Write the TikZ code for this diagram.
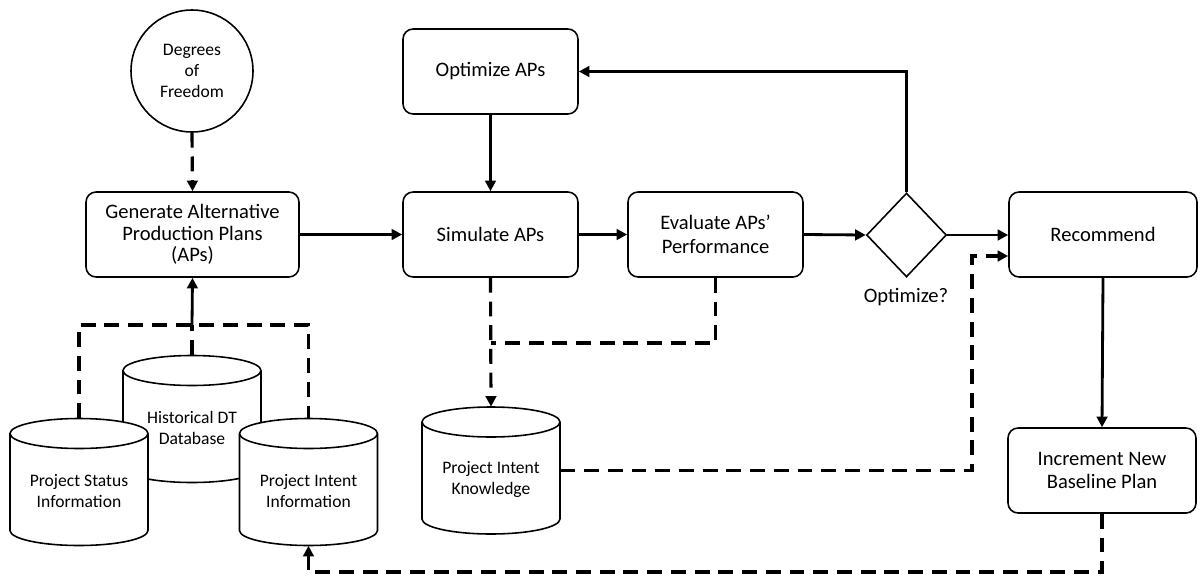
\documentclass[tikz,border=0pt]{standalone}
\usepackage{fontspec}
\setmainfont{Carlito}
\usetikzlibrary{arrows.meta,shapes.geometric}
\newcommand\mainfnt{\fontsize{11.7}{13.5}\selectfont}
\newcommand\smallfnt{\fontsize{10}{12}\selectfont}
\newcommand\cylat[4]{%
  \draw[cylline] (#2,#3) ++(-69,48.5) -- ++(0,-97) arc[start angle=180,end angle=360,x radius=1.38cm,y radius=0.3cm] -- ++(0,97) arc[start angle=0,end angle=180,x radius=1.38cm,y radius=0.3cm] -- cycle;
  \draw[cylline] (#2,#3) ++(-69,48.5) arc[start angle=180,end angle=360,x radius=1.38cm,y radius=0.3cm];
  \node[cylnode] (#1) at (#2,#3) {\rule{0pt}{17pt}#4};}
\begin{document}
\begin{tikzpicture}[x=0.02cm,y=0.02cm,
  box/.style={draw,line width=0.9pt,rounded corners=0.2cm,minimum height=1.7cm,align=center,inner sep=2pt,font=\mainfnt},
  cylline/.style={draw,fill=white,line width=0.9pt},
  cylnode/.style={minimum width=2.76cm,minimum height=2.54cm,inner sep=0pt,align=center,font=\smallfnt},
  arr/.style={line width=1.6pt,-{Triangle[length=6pt,width=6pt]}},
  darr/.style={line width=1.8pt,dash pattern=on 8.5pt off 5pt,-{Triangle[length=6pt,width=6pt]}},
  dline/.style={line width=1.8pt,dash pattern=on 8.5pt off 5pt}]
\useasboundingbox (0,0) rectangle (1200,-575);

% nodes
\node[draw,circle,line width=0.9pt,minimum size=2.44cm,inner sep=0pt,align=center,font=\smallfnt] (dof) at (192,-71) {Degrees\\of\\Freedom};
\node[box,minimum width=4.26cm,font=\fontsize{11.7}{12.3}\selectfont] (gen) at (192.5,-234.5) {Generate Alternative\\Production Plans\\(APs)};
\node[box,minimum width=3.5cm] (opt) at (490.5,-71.5) {Optimize APs};
\node[box,minimum width=3.5cm] (sim) at (490.5,-234.5) {Simulate APs};
\node[box,minimum width=3.5cm] (eval) at (715.5,-234.5) {Evaluate APs’\\Performance};
\node[draw,diamond,line width=0.9pt,minimum width=1.6cm,minimum height=1.68cm,inner sep=0pt] (dia) at (906.5,-235) {};
\node[font=\mainfnt] (optl) at (906,-297) {Optimize?};
\node[box,minimum width=3.76cm] (rec) at (1103,-234.5) {Recommend};
\node[box,minimum width=3.76cm] (inc) at (1102,-470.5) {Increment New\\Baseline Plan};

% cylinders
\cylat{hist}{192}{-419}{Historical DT\\Database}
\cylat{psi}{79}{-482}{Project Status\\Information}
\cylat{pii}{308.5}{-482}{Project Intent\\Information}
\cylat{pik}{491}{-470.5}{Project Intent\\Knowledge}

% helper coordinates
\coordinate (t1) at (192,-325);
\coordinate (b) at (1102,-572);
\coordinate (j) at (0,-343);
\coordinate (k) at (972,-256);

% connectors
\draw[darr] (dof.south) -- (gen.north);
\draw[arr] (gen.east) -- (sim.west);
\draw[arr] (sim.east) -- (eval.west);
\draw[arr] (eval.east) -- (dia.west);
\draw[arr] (dia.east) -- (dia.east -| rec.west);
\draw[arr] (dia.north) |- (opt.east);
\draw[arr] (opt.south) -- (sim.north);
\draw[arr] (rec.south) -- (inc.north);
\draw[darr] (inc.south) -- (inc.south |- b) -| (pii.south);
\draw[darr] (sim.south) -- (pik.north);
\draw[dline] (eval.south) |- (sim.south |- j);
\draw[darr] (pik.east) -| (k) -- (rec.west |- k);
\draw[dline] (psi.north) |- (t1) -| (pii.north);
\draw[dline] (hist.north) -- (t1);
\draw[arr] (t1) -- (gen.south);
\end{tikzpicture}
\end{document}
